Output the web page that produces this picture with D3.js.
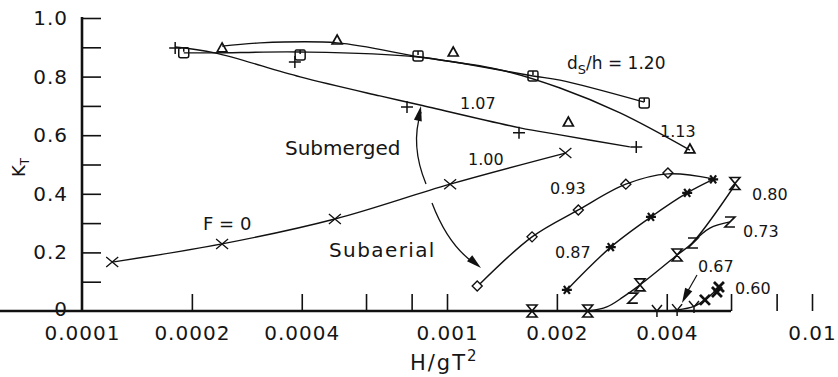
<!DOCTYPE html>
<html>
<head>
<meta charset="utf-8">
<script src="https://cdn.jsdelivr.net/npm/d3@7"></script>
<style>
body{margin:0;background:#fff;}
text{font-family:"DejaVu Sans",sans-serif;fill:#151515;}
</style>
</head>
<body>
<svg id="chart" width="838" height="377"></svg>
<script>
// measured points (H/gT^2, K_T) for each ds/h
const marks120 = [[1.90e-4,0.881],[3.96e-4,0.874],[8.33e-4,0.870],[1.72e-3,0.802],[3.47e-3,0.710]];
const marks113 = [[2.42e-4,0.898],[5.00e-4,0.925],[1.04e-3,0.884],[2.15e-3,0.645],[4.63e-3,0.553]];
const marks107 = [[1.80e-4,0.898],[3.83e-4,0.850],[7.77e-4,0.696],[1.575e-3,0.608],[3.30e-3,0.560]];
const marks100 = [[1.21e-4,0.167],[2.42e-4,0.229],[4.93e-4,0.314],[1.02e-3,0.433],[2.11e-3,0.539]];
const marks093 = [[1.21e-3,0.085],[1.71e-3,0.253],[2.29e-3,0.345],[3.09e-3,0.433],[4.03e-3,0.471]];
const marks087 = [[2.13e-3,0.072],[2.81e-3,0.218],[3.62e-3,0.321],[4.55e-3,0.403],[5.36e-3,0.449]];
const marks080 = [[1.71e-3,0.0],[2.43e-3,0.0],[3.38e-3,0.089],[4.27e-3,0.191],[6.15e-3,0.435]];
const marks073 = [[3.23e-3,0.044],[4.72e-3,0.232],[5.96e-3,0.304]];
const marks067 = [[3.76e-3,0.0],[4.27e-3,0.003],[4.75e-3,0.014]];
const marks060 = [[5.09e-3,0.038],[5.49e-3,0.065],[5.56e-3,0.082]];

// hand fitted curves as drawn
const fit120 = [[1.90e-4,0.881],[2.31e-4,0.881],[3.96e-4,0.884],[8.33e-4,0.867],[1.72e-3,0.802],[2.04e-3,0.788],[3.47e-3,0.713]];
const fit113 = [[2.42e-4,0.904],[3.07e-4,0.915],[5.00e-4,0.915],[8.44e-4,0.867],[1.40e-3,0.823],[2.04e-3,0.761],[2.98e-3,0.676],[4.63e-3,0.549]];
const fit107 = [[1.80e-4,0.901],[2.31e-4,0.881],[3.96e-4,0.799],[6.55e-4,0.734],[8.44e-4,0.703],[1.585e-3,0.625],[2.04e-3,0.601],[3.17e-3,0.560]];
const fit100 = [[1.21e-4,0.167],[2.42e-4,0.229],[4.93e-4,0.314],[1.02e-3,0.433],[2.11e-3,0.539]];
const fit093 = [[1.23e-3,0.092],[1.71e-3,0.253],[2.29e-3,0.345],[3.09e-3,0.433],[4.03e-3,0.468],[5.36e-3,0.451]];
const fit087 = [[2.13e-3,0.072],[2.81e-3,0.218],[3.62e-3,0.321],[4.55e-3,0.403],[5.36e-3,0.449]];
const fit080 = [[2.43e-3,0.0],[2.74e-3,0.014],[3.04e-3,0.048],[3.38e-3,0.089],[4.27e-3,0.191],[4.72e-3,0.235],[6.15e-3,0.430]];
const fit073 = [[4.72e-3,0.235],[5.25e-3,0.283],[5.96e-3,0.304]];
const fit067 = [[3.76e-3,0.0],[4.27e-3,0.004],[4.75e-3,0.016],[5.09e-3,0.038],[5.56e-3,0.080]];

const xTicks = [1e-4,2e-4,4e-4,6e-4,8e-4,1e-3,2e-3,4e-3,6e-3,8e-3,1e-2];
const xLabels = {0.0001:"0.0001",0.0002:"0.0002",0.0004:"0.0004",0.001:"0.001",0.002:"0.002",0.004:"0.004",0.01:"0.01"};
const yTicks = [0,0.1,0.2,0.3,0.4,0.5,0.6,0.7,0.8,0.9,1.0];
const yLabels = {0:"0",0.2:"0.2",0.4:"0.4",0.6:"0.6",0.8:"0.8",1:"1.0"};

const svg = d3.select("#chart");
const x = d3.scaleLog().domain([1e-4,1e-2]).range([82,812]);
const y = d3.scaleLinear().domain([0,1]).range([311,18]);

// axes, ticks point inward
let xa = svg.append("g").attr("transform","translate(0,311)")
    .call(d3.axisBottom(x).tickValues(xTicks).tickSize(-17).tickSizeOuter(0).tickPadding(15)
        .tickFormat(d => xLabels[+d.toPrecision(3)] || ""));
let ya = svg.append("g").attr("transform","translate(82,0)")
    .call(d3.axisLeft(y).tickValues(yTicks).tickSize(-19).tickSizeOuter(0).tickPadding(14)
        .tickFormat(d => yLabels[+d.toFixed(1)] || ""));
[xa,ya].forEach(a=>{
    a.select(".domain").attr("stroke","#111").attr("stroke-width",2.6);
    a.selectAll(".tick line").attr("stroke","#111").attr("stroke-width",1.6);
    a.selectAll("text").style("font-size","20px").style("letter-spacing","1px").attr("fill","#151515");
});
ya.select(".domain").attr("d","M0,311V17");
xa.select(".domain").attr("d","M0,0H731");
ya.selectAll(".tick").filter(d=>d===0).select("line").remove();
ya.selectAll(".tick").filter(d=>d===0).select("text").attr("dy","0.2em");
xa.selectAll(".tick").filter(d=>d===1e-4).select("line").remove();

// fitted lines
const line = d3.line().x(d=>x(d[0])).y(d=>y(d[1])).curve(d3.curveCatmullRom.alpha(0.5));
[fit120,fit113,fit107,fit100,fit093,fit087,fit080,fit073,fit067].forEach(f=>{
    svg.append("path").attr("d",line(f)).attr("fill","none").attr("stroke","#111").attr("stroke-width",1.4);
});

// hand drawn symbols
const sym = {
    circ: "M-4,-5H4Q5,-5 5,-3V3Q5,5 3,5H-3Q-5,5 -5,3V-3Q-5,-5 -4,-5ZM0,-5V-1",
    tri: "M0,-5L5,4H-5Z",
    plus: "M-6,0H6M0,-6V6",
    cross: "M-6,-5L6,5M-6,5L6,-5",
    diam: "M0,-5L5,0L0,5L-5,0Z",
    star: "M-5,0H5M-3,-4L3,4M-3,4L3,-4",
    glass: "M-5,-6H5L-5,6H5Z",
    zed: "M-5,-5H5L-5,5H5",
    why: "M-5,-6L0,0L5,-6M0,0V6",
    bold: "M-5,-5L5,5M-5,5L5,-5"
};
const sets = [
    [marks120,"circ",1.5],[marks113,"tri",1.7],[marks107,"plus",1.5],[marks100,"cross",1.3],
    [marks093,"diam",1.4],[marks087,"star",2.2],[marks080,"glass",1.6],[marks073,"zed",1.6],
    [marks067,"why",1.5],[marks060,"bold",2.8]
];
sets.forEach(s=>{
    svg.append("g").selectAll("path").data(s[0]).join("path")
        .attr("transform",d=>`translate(${x(d[0])},${y(d[1])})`)
        .attr("d",sym[s[1]]).attr("fill","none").attr("stroke","#111").attr("stroke-width",s[2]);
});

// curve labels
const lbl = [["1.07",460,109],["1.13",660,137],["1.00",468,165],["0.93",550,194],["0.87",555,258],
    ["0.80",752,200],["0.73",743,237],["0.67",698,272],["0.60",735,294]];
svg.append("g").selectAll("text").data(lbl).join("text")
    .attr("x",d=>d[1]).attr("y",d=>d[2]).style("font-size","16px").text(d=>d[0]);

let ds = svg.append("text").attr("x",567).attr("y",69).style("font-size","17px");
ds.append("tspan").text("d");
ds.append("tspan").attr("dy",5).style("font-size","13px").text("S");
ds.append("tspan").attr("dy",-5).text("/h = 1.20");

svg.append("text").attr("x",203).attr("y",230).style("font-size","18px").text("F = 0");
svg.append("text").attr("x",285).attr("y",155).style("font-size","20px").text("Submerged");
svg.append("text").attr("x",329).attr("y",257).style("font-size","20px").style("letter-spacing","1.4px").text("Subaerial");

let xt = svg.append("text").attr("x",410).attr("y",370).style("font-size","21px").style("letter-spacing","2px");
xt.append("tspan").text("H/gT");
xt.append("tspan").attr("dy",-9).style("font-size","15px").text("2");

let yt = svg.append("text").attr("transform","translate(25,177) rotate(-90)").style("font-size","18px");
yt.append("tspan").text("K");
yt.append("tspan").attr("dy",4).style("font-size","12px").text("T");

// arrows
const head = (tip, ang) => {
    const l = 15, w = 4;
    const c = Math.cos(ang), s = Math.sin(ang);
    return `M${tip[0]},${tip[1]}L${tip[0]-l*c+w*s},${tip[1]-l*s-w*c}L${tip[0]-l*c-w*s},${tip[1]-l*s+w*c}Z`;
};
svg.append("path").attr("d","M426,184Q410,145 421,112").attr("fill","none").attr("stroke","#111").attr("stroke-width",1.3);
svg.append("path").attr("d",head([421,106],Math.atan2(-14,3))).attr("fill","#111");
svg.append("path").attr("d","M432,203Q448,245 474,263").attr("fill","none").attr("stroke","#111").attr("stroke-width",1.3);
svg.append("path").attr("d",head([481,268],Math.atan2(12,14))).attr("fill","#111");
svg.append("path").attr("d","M697,275L685,296").attr("fill","none").attr("stroke","#111").attr("stroke-width",1.2);
svg.append("path").attr("d",head([682,303],Math.atan2(20,-10))).attr("fill","#111");
</script>
</body>
</html>
